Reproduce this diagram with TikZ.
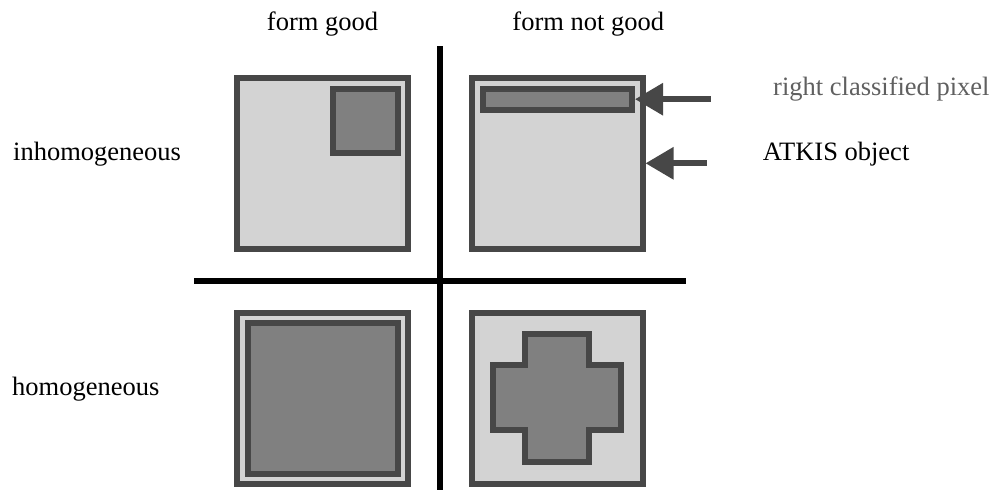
\documentclass[tikz,border=0pt]{standalone}
\usepackage{fontspec}
\newfontfamily\timesfont{LiberationSerif}[Extension=.ttf, UprightFont=*-Regular]
\usetikzlibrary{arrows.meta}
\definecolor{bord}{HTML}{474747}
\definecolor{lite}{HTML}{D3D3D3}
\definecolor{mid}{HTML}{808080}
\definecolor{txtgray}{HTML}{606060}
\tikzset{
  outerbox/.style={draw=bord, fill=lite, line width=6pt, inner sep=0pt, minimum width=170.4pt, minimum height=170.4pt},
  innerbox/.style={draw=bord, fill=mid, line width=6pt, inner sep=0pt},
  divider/.style={draw=black, line width=6pt},
  pointer/.style={draw=bord, line width=6pt, -{Triangle[length=28pt,width=31pt]}},
  lbl/.style={inner sep=0pt, font=\timesfont\fontsize{26.5}{30}\selectfont}
}
\begin{document}
\begin{tikzpicture}[x=1pt,y=-1pt]
\useasboundingbox (0,0) rectangle (996,490);
% dividers
\coordinate (vtop) at (440.3,46);
\coordinate (vbot) at (440.3,490);
\coordinate (hl) at (194.3,281);
\coordinate (hr) at (685.7,281);
\draw[divider] (vtop) -- (vbot);
\draw[divider] (hl) -- (hr);
% top-left
\node[outerbox] (tl) at (322.5,163.3) {};
\node[innerbox, minimum width=64.4pt, minimum height=64pt] (tlin) at (365.5,120.7) {};
% top-right
\node[outerbox] (tr) at (557.3,163.3) {};
\node[innerbox, minimum width=149pt, minimum height=21pt] (bar) at (557.5,99.2) {};
% bottom-left
\node[outerbox] (bl) at (322.5,398.3) {};
\node[innerbox, minimum width=149.7pt, minimum height=150.7pt] (blin) at (322.8,398.7) {};
% bottom-right
\node[outerbox] (br) at (557.3,398.3) {};
\draw[draw=bord, fill=mid, line width=6pt]
  (525.3,334) -- (589.3,334) -- (589.3,365.3) -- (621.3,365.3) -- (621.3,429.7)
  -- (589.3,429.7) -- (589.3,462) -- (525.3,462) -- (525.3,429.7) -- (493.3,429.7)
  -- (493.3,365.3) -- (525.3,365.3) -- cycle;
% labels
\node[lbl, anchor=base] (fg) at (322.5,30) {form good};
\node[lbl, anchor=base] (fng) at (588.3,30) {form not good};
\node[lbl, anchor=base west] (inh) at (13,160) {inhomogeneous};
\node[lbl, anchor=base west] (hom) at (12,395) {homogeneous};
\node[lbl, anchor=base west, text=txtgray] (rcp) at (773,95) {right classified pixel};
\node[lbl, anchor=base west] (atk) at (762.7,160) {ATKIS object};
% arrows
\coordinate (a1) at (710.7,99.2);
\coordinate (a2) at (706.7,163.3);
\draw[pointer] (a1) -- (bar.east);
\draw[pointer] (a2) -- (tr.east);
\end{tikzpicture}
\end{document}
